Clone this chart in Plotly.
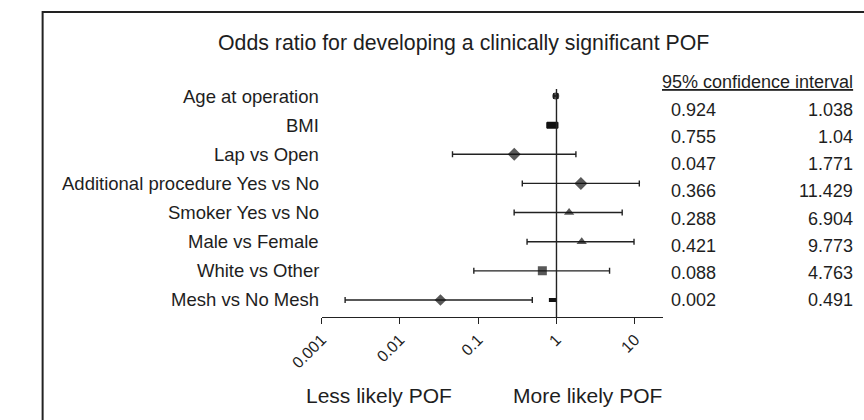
import plotly.graph_objects as go

W, H = 864, 420

labels = ["Age at operation", "BMI", "Lap vs Open", "Additional procedure Yes vs No",
          "Smoker Yes vs No", "Male vs Female", "White vs Other", "Mesh vs No Mesh"]
odds = [0.979, 0.886, 0.289, 2.05, 1.45, 2.1, 0.66, 0.033]
ci_low = [0.924, 0.755, 0.047, 0.366, 0.288, 0.421, 0.088, 0.002]
ci_high = [1.038, 1.04, 1.771, 11.429, 6.904, 9.773, 4.763, 0.491]
low_text = ["0.924", "0.755", "0.047", "0.366", "0.288", "0.421", "0.088", "0.002"]
high_text = ["1.038", "1.04", "1.771", "11.429", "6.904", "9.773", "4.763", "0.491"]
symbols = ["circle", "square", "diamond", "diamond", "triangle-up", "triangle-up", "square", "diamond"]
sizes = [7, 0, 10, 10, 9, 9, 9, 9]
tick_vals = [0.001, 0.01, 0.1, 1, 10]
tick_text = ["0.001", "0.01", "0.1", "1", "10"]
# small extra bar drawn on the Mesh row near 1
mesh_extra = [0.80, 0.99]

FONT = "Liberation Sans"
LINE = "#222222"
MARK = "#111111"
TXT = "#1e1e1e"

def px(x):
    return x / W

def py(y):
    return 1 - y / H

rows = list(range(len(labels)))
row_top_px, row_step_px = 96, 29.14
ax_top_px, ax_bot_px = 89, 317
y_lo = (ax_bot_px - row_top_px) / row_step_px
y_hi = (ax_top_px - row_top_px) / row_step_px

fig = go.Figure()

# CI whiskers with caps
err_plus = [h - o for h, o in zip(ci_high, odds)]
err_minus = [o - l for o, l in zip(odds, ci_low)]
fig.add_trace(go.Scatter(
    x=odds, y=rows, mode="markers",
    marker=dict(size=0.1, color="rgba(0,0,0,0)"),
    error_x=dict(type="data", symmetric=False, array=err_plus, arrayminus=err_minus,
                 color=LINE, thickness=1.4, width=3),
    showlegend=False, hoverinfo="skip"))

# BMI thick box from low to high
fig.add_trace(go.Scatter(x=[ci_low[1], ci_high[1]], y=[1, 1], mode="lines",
                         line=dict(color=MARK, width=7), showlegend=False))
# Mesh extra mark
fig.add_trace(go.Scatter(x=mesh_extra, y=[7, 7], mode="lines",
                         line=dict(color=MARK, width=4), showlegend=False))

# point markers
mk_idx = [i for i in rows if sizes[i] > 0]
fig.add_trace(go.Scatter(
    x=[odds[i] for i in mk_idx], y=[rows[i] for i in mk_idx], mode="markers",
    marker=dict(symbol=[symbols[i] for i in mk_idx], size=[sizes[i] for i in mk_idx],
                color=MARK, line=dict(width=0)),
    showlegend=False))

# vertical reference line at 1
fig.add_shape(type="line", xref="x", yref="y domain", x0=1, x1=1, y0=0, y1=1,
              line=dict(color=LINE, width=1.4))

# frame
fig.add_shape(type="rect", xref="paper", yref="paper",
              x0=px(10), x1=1.05, y0=-0.05, y1=py(12),
              line=dict(color="#222222", width=2))

ann = []
ann.append(dict(text="Odds ratio for developing a clinically significant POF",
                x=px(448), y=py(43), xref="paper", yref="paper", showarrow=False,
                xanchor="center", yanchor="middle", font=dict(size=21.3, color=TXT, family=FONT)))
for i, lab in enumerate(labels):
    ann.append(dict(text=lab, x=px(299), y=rows[i], xref="paper", yref="y", showarrow=False,
                    xanchor="right", yanchor="middle", font=dict(size=18.5, color=TXT, family=FONT)))
ann.append(dict(text="<u>95% confidence interval</u>", x=px(855), y=py(82), xref="paper", yref="paper",
                showarrow=False, xanchor="right", yanchor="middle",
                font=dict(size=18, color=TXT, family=FONT)))
tab_top, tab_step = 110, 27.14
for k in rows:
    yy = py(tab_top + k * tab_step)
    ann.append(dict(text=low_text[k], x=px(661), y=yy, xref="paper", yref="paper", showarrow=False,
                    xanchor="left", yanchor="middle", font=dict(size=18, color=TXT, family=FONT)))
    ann.append(dict(text=high_text[k], x=px(855), y=yy, xref="paper", yref="paper", showarrow=False,
                    xanchor="right", yanchor="middle", font=dict(size=18, color=TXT, family=FONT)))
ann.append(dict(text="Less likely POF", x=px(360), y=py(395), xref="paper", yref="paper", showarrow=False,
                xanchor="center", yanchor="middle", font=dict(size=21, color=TXT, family=FONT)))
ann.append(dict(text="More likely POF", x=px(577), y=py(395), xref="paper", yref="paper", showarrow=False,
                xanchor="center", yanchor="middle", font=dict(size=21, color=TXT, family=FONT)))

fig.update_layout(
    width=W, height=H, margin=dict(l=0, r=0, t=0, b=0),
    paper_bgcolor="white", plot_bgcolor="white",
    annotations=ann,
    xaxis=dict(type="log", range=[-3, 1.36], domain=[px(300), px(655)],
               tickvals=tick_vals, ticktext=tick_text, tickangle=-45,
               ticks="outside", ticklen=6, tickwidth=1.4, tickcolor=LINE,
               showline=True, linecolor=LINE, linewidth=1.4, showgrid=False, zeroline=False,
               tickfont=dict(size=16, color=TXT, family=FONT), anchor="y"),
    yaxis=dict(range=[y_lo, y_hi], domain=[py(ax_bot_px), py(ax_top_px)],
               showticklabels=False, showgrid=False, zeroline=False, showline=False, ticks=""),
)

fig.write_html("out.html", config={"displayModeBar": False},
               post_script="document.body.style.margin='0';document.body.style.overflow='hidden';")
